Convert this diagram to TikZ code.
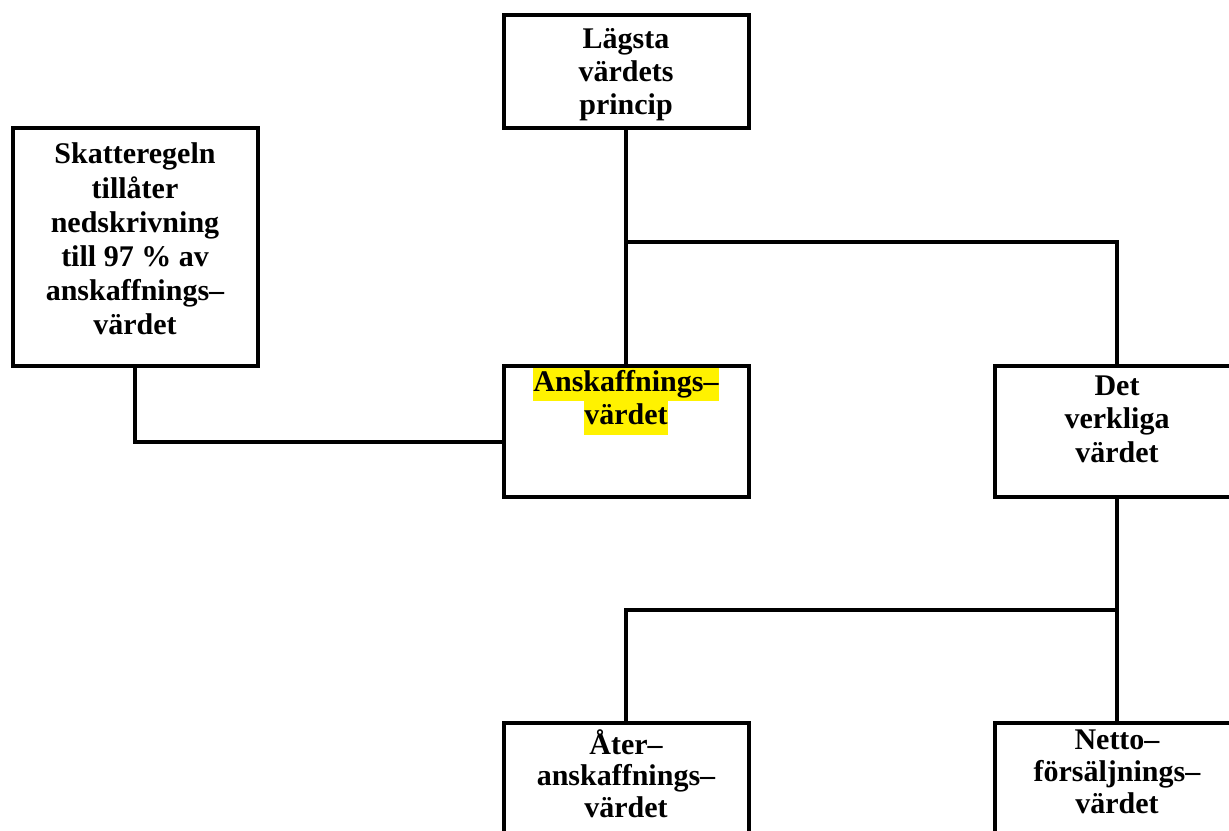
\documentclass[tikz,border=0pt]{standalone}
\usepackage{fontspec}
\setmainfont{Liberation Serif}
\usepackage{tikz}
\newcommand{\hilite}[1]{{\setlength{\fboxsep}{0pt}\colorbox{yellow}{\strut#1}}}

\begin{document}
\begin{tikzpicture}[x=0.75pt,y=-0.75pt,
   line width=3pt,
   box/.style={draw,minimum width=183.75pt,inner sep=0pt},
   boxtext/.style={anchor=north,align=center,inner sep=0pt,
     font=\fontsize{22.5}{25}\selectfont\bfseries}]
\useasboundingbox (0,0) rectangle (1229,831);
\clip (0,0) rectangle (1229,831);
\node[box,minimum height=84.75pt] (top) at (626,71.5) {};
\node[box,minimum height=178.5pt] (left) at (135,247) {};
\node[box,minimum height=98.25pt] (ansk) at (626,431.5) {};
\node[box,minimum height=98.25pt] (det) at (1117,431.5) {};
\node[box,minimum height=98.25pt] (ater) at (626,788.5) {};
\node[box,minimum height=98.25pt] (netto) at (1117,788.5) {};
\node[boxtext,yshift=-7.5pt] (top-t) at (top.north) {\strut Lägsta\\\strut värdets\\\strut princip};
\node[boxtext,yshift=-9pt,font=\fontsize{22.5}{25.6}\selectfont\bfseries] (left-t) at (left.north) {\strut Skatteregeln\\\strut tillåter\\\strut nedskrivning\\\strut till 97 \% av\\\strut anskaffnings–\\\strut värdet};
\node[boxtext,yshift=-1.5pt] (ansk-t) at (ansk.north) {\hilite{Anskaffnings–}\\\hilite{värdet}};
\node[boxtext,yshift=-4.5pt] (det-t) at (det.north) {\strut Det\\\strut verkliga\\\strut värdet};
\node[boxtext,yshift=-5pt,font=\fontsize{22.5}{23.5}\selectfont\bfseries] (ater-t) at (ater.north) {\strut Åter–\\\strut anskaffnings–\\\strut värdet};
\node[boxtext,yshift=-3pt,font=\fontsize{22.5}{24}\selectfont\bfseries] (netto-t) at (netto.north) {\strut Netto–\\\strut försäljnings–\\\strut värdet};
\coordinate (split1) at (626,242);
\coordinate (split2) at (1117,610);
\draw (top.south) -- (ansk.north);
\draw (split1) -| (det.north);
\draw (left.south) |- ([yshift=-7.9pt]ansk.west);
\draw (det.south) -- (netto.north);
\draw (split2) -| (ater.north);
\end{tikzpicture}
\end{document}
